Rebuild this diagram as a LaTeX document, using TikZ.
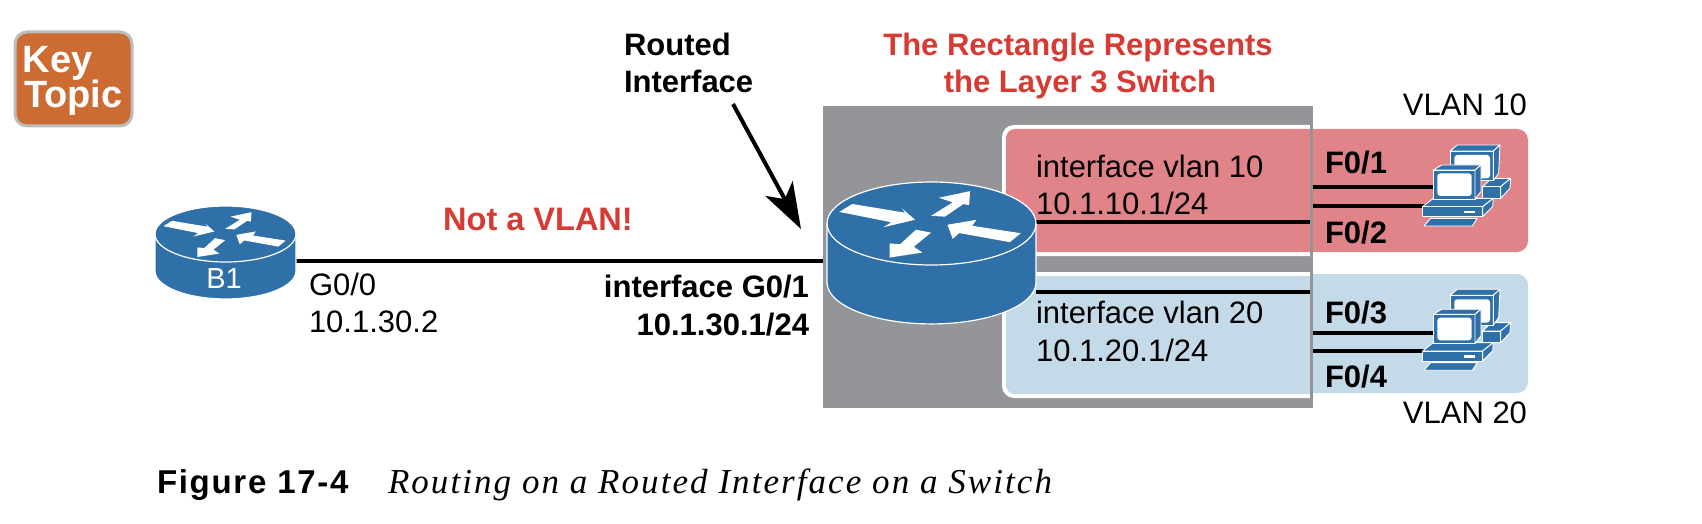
\documentclass[tikz,border=0pt]{standalone}
\usepackage{fontspec}
\setmainfont{Liberation Sans}
\newfontfamily\capserif[LetterSpace=5.9]{Liberation Serif}
\newfontfamily\figsans[LetterSpace=5.2]{Liberation Sans}
\usetikzlibrary{arrows.meta}
\definecolor{netblue}{HTML}{2F70A8}
\definecolor{switchgray}{HTML}{939598}
\definecolor{vlanred}{HTML}{E0848A}
\definecolor{vlanblue}{HTML}{C5DAE8}
\definecolor{keyorange}{HTML}{CC6C33}
\definecolor{keyedge}{HTML}{BDBDBD}
\definecolor{callred}{HTML}{D63A33}
\newcommand{\routericon}[5]{%
\begin{scope}[shift={(#1,#2)},x=#3pt,y=-#4pt]
\filldraw[fill=netblue,draw=white,line width=1.2pt]
 (-1,0) -- (-1,#5) .. controls (-1,#5+.5523) and (-.5523,#5+1) .. (0,#5+1)
 .. controls (.5523,#5+1) and (1,#5+.5523) .. (1,#5) -- (1,0)
 .. controls (1,-.5523) and (.5523,-1) .. (0,-1)
 .. controls (-.5523,-1) and (-1,-.5523) .. (-1,0) -- cycle;
\draw[white,line width=1.2pt] (-1,0) .. controls (-1,.5523) and (-.5523,1) .. (0,1)
 .. controls (.5523,1) and (1,.5523) .. (1,0);
\fill[white] (-.882,-.28) -- (-.758,-.47) -- (-.253,-.26) -- (-.286,-.37) -- (-.157,-.09) -- (-.46,.09) -- (-.385,-.03) -- cycle;
\fill[white] (-.004,-.185) -- (.203,-.51) -- (.07,-.62) -- (.369,-.78) -- (.36,-.44) -- (.306,-.47) -- (.128,-.165) -- cycle;
\fill[white] (.853,.235) -- (.75,.45) -- (.265,.23) -- (.203,.37) -- (.153,.03) -- (.43,-.09) -- (.39,.055) -- cycle;
\fill[white] (-.149,.15) -- (-.004,.22) -- (-.17,.56) -- (-.087,.70) -- (-.4,.82) -- (-.4,.48) -- (-.3,.5) -- cycle;
\end{scope}}
\newcommand{\pcicon}[2]{%
\begin{scope}[shift={(#1,#2)},x=.3333pt,y=-.3333pt,pcpart/.style={fill=netblue,draw=white,line width=.9pt,line join=round}]
\filldraw[pcpart] (548,290) -- (575,265) -- (632,265) -- (602,290) -- cycle;
\filldraw[pcpart] (548,290) rectangle (602,325);
\filldraw[pcpart] (602,290) -- (632,265) -- (630,295) -- (602,325) -- cycle;
\filldraw[pcpart] (450,183) -- (472,165) -- (600,165) -- (580,183) -- cycle;
\filldraw[pcpart] (450,183) rectangle (580,272);
\filldraw[pcpart] (580,183) -- (600,165) -- (596,250) -- (580,272) -- cycle;
\fill[white,rounded corners=3pt] (463,195) rectangle (570,265);
\filldraw[pcpart] (368,350) -- (400,325) -- (580,325) -- (548,350) -- cycle;
\filldraw[pcpart] (368,350) rectangle (548,380);
\filldraw[pcpart] (548,350) -- (580,325) -- (578,350) -- (548,380) -- cycle;
\fill[white] (492,363) rectangle (525,370);
\filldraw[pcpart] (372,408) -- (392,385) -- (532,385) -- (517,408) -- cycle;
\filldraw[pcpart] (400,240) -- (425,225) -- (543,225) -- (525,240) -- cycle;
\filldraw[pcpart] (400,240) rectangle (525,327);
\filldraw[pcpart] (525,240) -- (543,225) -- (543,305) -- (525,327) -- cycle;
\fill[white,rounded corners=3pt] (412,250) rectangle (515,318);
\end{scope}}
\tikzset{
 wire/.style={black,line width=3.6pt},
 anchorbox/.style={inner sep=0pt,outer sep=0pt,draw=none},
 lab/.style={inner sep=0pt,outer sep=0pt,anchor=base west,text=black,font=\fontsize{31}{36}\selectfont},
 labr/.style={lab,anchor=base east},
 blab/.style={lab,font=\fontsize{31}{36}\selectfont\bfseries},
 blabr/.style={blab,anchor=base east},
 redlab/.style={blab,anchor=base,text=callred},
}
\begin{document}
\begin{tikzpicture}[x=1pt,y=-1pt]
\useasboundingbox (0,0) rectangle (1702,524);
% key topic
\filldraw[fill=keyorange,draw=keyedge,line width=3pt,rounded corners=12pt] (15,32) rectangle (132,126);
\node[lab,text=white,font=\fontsize{38}{40}\selectfont\bfseries] (keyw) at (23,73) {Key};
\node[lab,text=white,font=\fontsize{38}{40}\selectfont\bfseries] (topicw) at (24,108) {Topic};
% switch
\fill[switchgray] (823,106) rectangle (1313,408);
\fill[white] (1310,125) [rounded corners=12pt] -- (1002,125) -- (1002,256) [sharp corners] -- (1310,256) -- cycle;
\fill[vlanred] (1310,129) [rounded corners=9pt] -- (1006,129) -- (1006,252) [sharp corners] -- (1310,252) -- cycle;
\fill[white] (1310,272) [rounded corners=12pt] -- (1002,272) -- (1002,398) [sharp corners] -- (1310,398) -- cycle;
\fill[vlanblue] (1310,276) [rounded corners=9pt] -- (1006,276) -- (1006,394) [sharp corners] -- (1310,394) -- cycle;
\fill[vlanred] (1313,129) [rounded corners=11pt] -- (1528,129) -- (1528,252) [sharp corners] -- (1313,252) -- cycle;
\fill[vlanblue] (1313,274) [rounded corners=11pt] -- (1528,274) -- (1528,393) [sharp corners] -- (1313,393) -- cycle;
\fill[switchgray] (1310,106) rectangle (1313,408);
% anchors
\node[anchorbox,minimum width=141pt,minimum height=76pt] (b1) at (225.5,261) {};
\node[anchorbox,minimum width=217pt,minimum height=126pt] (l3) at (931.5,261) {};
\coordinate (v10a) at (1036,222); \coordinate (v10b) at (1310,222);
\coordinate (v20a) at (1036,292); \coordinate (v20b) at (1310,292);
\coordinate (f1a) at (1313,187); \coordinate (f1b) at (1436,187);
\coordinate (f2a) at (1313,206); \coordinate (f2b) at (1426,206);
\coordinate (f3a) at (1313,333); \coordinate (f3b) at (1436,333);
\coordinate (f4a) at (1313,351); \coordinate (f4b) at (1426,351);
\coordinate (arrowfrom) at (733,104); \coordinate (arrowtip) at (801,229);
% connectors
\draw[wire] (b1.east) -- (l3.west);
\draw[wire] (v10a) -- (v10b);
\draw[wire] (v20a) -- (v20b);
\draw[wire] (f1a) -- (f1b);
\draw[wire] (f2a) -- (f2b);
\draw[wire] (f3a) -- (f3b);
\draw[wire] (f4a) -- (f4b);
\draw[black,line width=4pt,-{Stealth[length=46pt,width=31pt,inset=12pt]}] (arrowfrom) -- (arrowtip);
% devices
\routericon{225.5}{234}{70.5}{28}{1.32}
\routericon{931.5}{223.5}{104.5}{41.5}{1.42}
\pcicon{1300}{90}
\pcicon{1300}{234.3}
% labels
\node[lab,text=white,anchor=base,font=\fontsize{29}{34}\selectfont] (b1lab) at (224,288) {B1};
\node[blab] (rt1) at (624,56) {Routed};
\node[blab] (rt2) at (624,93) {Interface};
\node[redlab] (rect1) at (1078,56) {The Rectangle Represents};
\node[redlab] (rect2) at (1080,93) {the Layer 3 Switch};
\node[redlab,font=\fontsize{32.5}{36}\selectfont\bfseries] (notv) at (538,230) {Not a VLAN!};
\node[lab] (g00) at (309,295) {G0/0};
\node[lab] (ip2) at (309,332) {10.1.30.2};
\node[blabr] (ig01) at (809,297) {interface G0/1};
\node[blabr] (ip1) at (809,335) {10.1.30.1/24};
\node[lab] (iv10) at (1036,177) {interface vlan 10};
\node[lab] (ip10) at (1036,214) {10.1.10.1/24};
\node[lab] (iv20) at (1036,323) {interface vlan 20};
\node[lab] (ip20) at (1036,361) {10.1.20.1/24};
\node[blab] (f1) at (1325,173) {F0/1};
\node[blab] (f2) at (1325,243) {F0/2};
\node[blab] (f3) at (1325,323) {F0/3};
\node[blab] (f4) at (1325,387) {F0/4};
\node[labr] (vl10) at (1527,116) {VLAN 10};
\node[labr] (vl20) at (1527,423) {VLAN 20};
\node[lab,font=\fontsize{33}{36}\selectfont\figsans\bfseries] (figno) at (157,493) {Figure 17-4};
\node[lab,font=\fontsize{35}{38}\selectfont\capserif\itshape] (figcap) at (388,493) {Routing on a Routed Interface on a Switch};
\end{tikzpicture}
\end{document}
